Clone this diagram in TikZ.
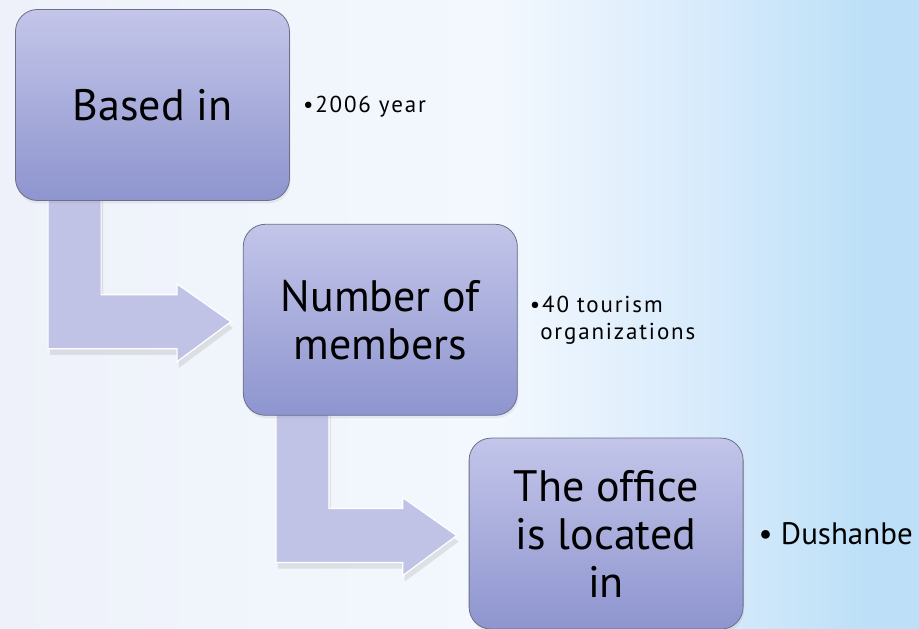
\documentclass[tikz,border=0pt]{standalone}
\usepackage{fontspec}
\setmainfont{PT Sans}
\newfontfamily\notefont[LetterSpace=8]{PT Sans}
\usetikzlibrary{positioning,calc,shadows}
\definecolor{BoxTop}   {HTML}{C3C5E9}
\definecolor{BoxMid}   {HTML}{B8BBE3}
\definecolor{BoxBot}   {HTML}{8E95CF}
\definecolor{BoxLine}  {HTML}{6C6F88}
\definecolor{ArrowFill}{HTML}{C0C3E6}
\definecolor{SkyLeft}  {HTML}{EEF1F9}
\definecolor{SkyMid}   {HTML}{F3F8FE}
\definecolor{SkyBlend} {HTML}{D6EAFB}
\definecolor{SkyRight} {HTML}{BDE0F8}
\pgfdeclarehorizontalshading{skyshade}{100bp}{color(0bp)=(SkyLeft); color(25bp)=(SkyLeft);
  color(52bp)=(SkyMid); color(64bp)=(SkyBlend); color(72bp)=(SkyRight); color(100bp)=(SkyRight)}
\pgfdeclarelayer{back}
\pgfdeclarelayer{flow}
\pgfsetlayers{back,flow,main}

\begin{document}
\begin{tikzpicture}[x=1pt,y=1pt,
  box/.style={rectangle,rounded corners=22pt,draw=BoxLine,line width=0.8pt,
              top color=BoxTop,middle color=BoxMid,bottom color=BoxBot,
              minimum width=274pt,minimum height=191pt,inner sep=2pt,align=center,
              font=\fontsize{44}{48}\selectfont,
              drop shadow={opacity=0.12,shadow xshift=1pt,shadow yshift=-3pt}},
  note/.style={inner sep=0pt,align=left,font=\notefont\fontsize{23}{27}\selectfont},
  flowarrow/.style={fill=ArrowFill,draw=white,line width=1.2pt,
              drop shadow={opacity=0.18,shadow xshift=2pt,shadow yshift=-6pt}}
]
  \useasboundingbox (0,0) rectangle (919,629);
  \begin{pgfonlayer}{back}
    \shade[shading=skyshade] (0,0) rectangle (919,629);
  \end{pgfonlayer}

  \node[box] (based) at (152.5,524) {Based in};
  \node[box, below right=23pt and -47pt of based]  (members) {Number of\\members};
  \node[box, below right=22pt and -49pt of members] (office)  {The office\\is located\\in};

  \node[note, right=13pt of based, yshift=-2pt] (year)  {\textbullet 2006 year};
  \node[note, right=12pt of members]             (orgs)  {\textbullet 40 tourism\\\hphantom{\textbullet}organizations};
  \node[note, right=15pt of office, font=\fontsize{31}{36}\selectfont] (city) {\textbullet\ Dushanbe};

  % bent arrows between the boxes
  \begin{pgfonlayer}{flow}
    \foreach \from/\to in {based/members,members/office}
      \path let \p1=(\from.south west), \p2=($(\to.west)+(-12,-2)$) in
        [flowarrow] (\x1+33,\y1+6) -- (\x1+33,\y2-27) -- (\x2-54,\y2-27)
        -- (\x2-54,\y2-40) -- (\p2) -- (\x2-54,\y2+38) -- (\x2-54,\y2+27)
        -- (\x1+86,\y2+27) -- (\x1+86,\y1+6) -- cycle;
  \end{pgfonlayer}
\end{tikzpicture}
\end{document}
